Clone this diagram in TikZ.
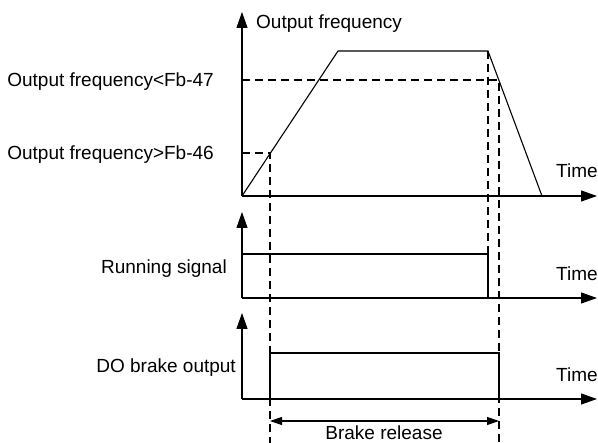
\documentclass[tikz,border=0pt]{standalone}
\usepackage{fontspec}
\setmainfont{Liberation Sans}
\usetikzlibrary{arrows.meta}

\begin{document}
\begin{tikzpicture}[
  x=1pt, y=-1pt,
  font=\fontsize{19}{22}\selectfont,
  axis/.style={-{Triangle[length=16pt,width=11pt]}, line width=1.1pt},
  sig/.style={line width=1.1pt},
  guide/.style={line width=1.1pt, dash pattern=on 8pt off 5pt},
  span/.style={{Triangle[length=12pt,width=8pt]}-{Triangle[length=12pt,width=8pt]}, line width=1.1pt},
  lab/.style={inner sep=0pt, anchor=base east},
  tlab/.style={inner sep=0pt, anchor=base west},
]
\useasboundingbox (0,0) rectangle (598,443);

% ---- panel 1: output frequency ----
\coordinate (o1)    at (242,196);
\coordinate (fup)   at (338,51);
\coordinate (fdn)   at (488,51);
\coordinate (fend)  at (542,196);
\coordinate (ton)   at (270,153);   % ramp crosses Fb-46
\coordinate (toff)  at (499,80);    % decel crosses Fb-47
\draw[axis] (o1) -- (242,12);
\draw[axis] (o1) -- (597,196);
\draw[sig] (o1) -- (fup) -- (fdn) -- (fend);
\node[tlab] (yfreq) at (256,29) {Output frequency};
\node[tlab] (tm1) at (556,178) {Time};
\node[lab] (lvl47) at (214,87) {Output frequency<Fb-47};
\node[lab] (lvl46) at (214,160) {Output frequency>Fb-46};

% ---- panel 2: running signal ----
\coordinate (o2) at (242,298);
\draw[axis] (o2) -- (242,212);
\draw[axis] (o2) -- (597,298);
\draw[sig] (242,254) -- (fdn |- 0,254) -- (fdn |- o2);
\node[tlab] (tm2) at (556,281) {Time};
\node[lab] (lrun) at (227,274) {Running signal};

% ---- panel 3: DO brake output ----
\coordinate (o3) at (242,399);
\draw[axis] (o3) -- (242,313);
\draw[axis] (o3) -- (597,399);
\draw[sig] (ton |- o3) -- (ton |- 0,353) -- (toff |- 0,353) -- (toff |- o3);
\node[tlab] (tm3) at (556,382) {Time};
\node[lab] (ldo) at (236,373) {DO brake output};

% ---- guides ----
\draw[guide] (o1 |- toff) -- (toff) -- (toff |- 0,443);
\draw[guide] (o1 |- ton) -- (ton) -- (ton |- 0,443);
\draw[guide] (fdn) -- (fdn |- o2);

% ---- brake release span ----
\draw[span] (ton |- 0,421) -- (toff |- 0,421);
\node[inner sep=0pt, anchor=base] (lrel) at (384,440) {Brake release};
\end{tikzpicture}
\end{document}
